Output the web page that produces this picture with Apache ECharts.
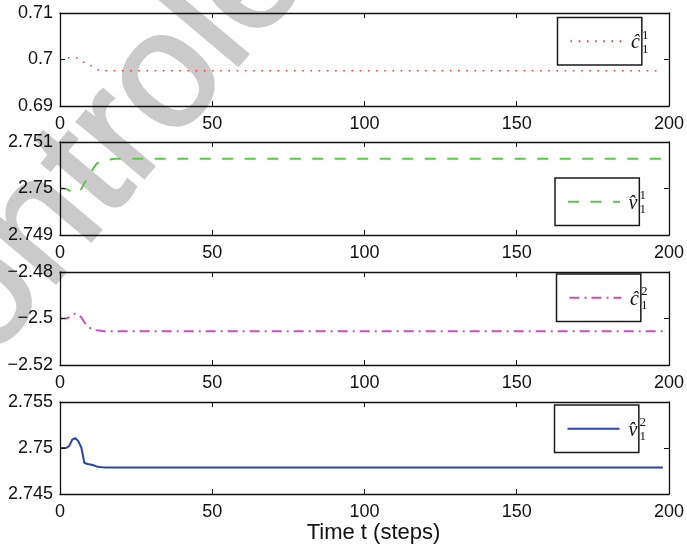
<!DOCTYPE html>
<html>
<head>
<meta charset="utf-8">
<script src="https://cdn.jsdelivr.net/npm/echarts@6/dist/echarts.min.js"></script>
<style>
  html, body { margin: 0; padding: 0; background: #ffffff; }
  #chart { width: 687px; height: 553px; }
</style>
</head>
<body>
<div id="chart"></div>
<script>
// Estimated parameters over time (steps); each series settles after ~15 steps.
const timeTicks = [0, 50, 100, 150, 200];

const tC11 = [0, 1, 2, 3, 4, 5, 6, 7, 8, 9, 10, 11, 12, 13, 14, 198];
const c11 = [0.7000, 0.7000, 0.7002, 0.7004, 0.7004, 0.7004, 0.7003, 0.6998, 0.6993, 0.6990,
             0.6987, 0.6984, 0.6979, 0.6977, 0.6976, 0.6976];

const tV11 = [0, 1, 2, 3, 4, 5, 6, 7, 8, 9, 10, 11, 12, 13, 14, 15, 16, 17, 18, 19, 198];
const v11 = [2.75, 2.75, 2.74999, 2.74996, 2.74991, 2.7499, 2.74993, 2.74999, 2.75011, 2.75022,
             2.75033, 2.75044, 2.75053, 2.75058, 2.7506, 2.75061, 2.75062, 2.75063, 2.75064,
             2.75064, 2.75064];

const tC12 = [0, 1, 2, 3, 4, 5, 6, 7, 8, 9, 10, 11, 12, 13, 14, 15, 16, 198];
const c12 = [-2.5, -2.5, -2.5, -2.4995, -2.4984, -2.4979, -2.4983, -2.4995, -2.5016, -2.5034,
             -2.5042, -2.5047, -2.5050, -2.5052, -2.5054, -2.5055, -2.5055, -2.5055];

const tV12 = [0, 1, 2, 3, 4, 5, 6, 7, 8, 9, 10, 11, 12, 13, 14, 15, 16, 198];
const v12 = [2.75, 2.75, 2.75, 2.7502, 2.7509, 2.75108, 2.75075, 2.75005, 2.7484, 2.74826,
             2.7482, 2.74812, 2.748, 2.74793, 2.7479, 2.74789, 2.74789, 2.74789];

// y ranges of the four panels: [min, max, interval]
const yRanges = [
  [0.69, 0.71, 0.01],
  [2.749, 2.751, 0.001],
  [-2.52, -2.48, 0.02],
  [2.745, 2.755, 0.005]
];

const seriesNames = ['c11', 'v11', 'c12', 'v12'];
const seriesTimes = [tC11, tV11, tC12, tV12];
const seriesValues = [c11, v11, c12, v12];
const legendSymbols = [
  { base: 'ĉ', sup: '1' },
  { base: 'v̂', sup: '1' },
  { base: 'ĉ', sup: '2' },
  { base: 'v̂', sup: '2' }
];
const xLabel = 'Time t (steps)';
const watermarkText = 'Controle';

const lineStyles = [
  { color: '#f23b3b', width: 1.5, type: [1.6, 6.6] },
  { color: '#5bc64a', width: 2, type: [11, 11.5] },
  { color: '#c94fc0', width: 2, type: [10, 5, 2, 5] },
  { color: '#2b45a8', width: 2, type: 'solid' }
];

const gridTops = [13, 142, 272, 402];
const gridLeft = 60, gridWidth = 612, gridHeight = 93;

// legend boxes: left, top, width of text slot, x of symbol
const legendBoxes = [
  { left: 557.5, top: 17.5, slot: 27.5, symX: 631 },
  { left: 555, top: 178, slot: 30.5, symX: 628.5 },
  { left: 556.5, top: 274, slot: 27.5, symX: 630 },
  { left: 554.5, top: 405, slot: 30, symX: 628.5 }
];

const AXIS_FONT = 'Liberation Sans, Arial, Helvetica, sans-serif';
const MATH_FONT = '"Liberation Serif", "Times New Roman", serif';
const black = '#111111';

function fmt(v) {
  return String(+v.toFixed(4)).replace('-', '\u2212');
}

const grids = [], xAxes = [], yAxes = [], series = [], legends = [], graphics = [];

for (let i = 0; i < 4; i++) {
  grids.push({ left: gridLeft, top: gridTops[i], width: gridWidth, height: i === 3 ? 92 : gridHeight, containLabel: false });
  const tickCommon = { show: true, inside: true, length: 5, lineStyle: { color: black, width: 1 } };
  const lineCommon = { show: true, onZero: false, lineStyle: { color: black, width: 1.3 } };
  // bottom x axis with labels
  xAxes.push({
    gridIndex: i, type: 'value', position: 'bottom', z: 5,
    min: timeTicks[0], max: timeTicks[timeTicks.length - 1], interval: timeTicks[1] - timeTicks[0],
    axisLine: lineCommon, axisTick: tickCommon, splitLine: { show: false },
    axisLabel: { show: true, margin: 9.5, color: black, fontSize: 18, fontFamily: AXIS_FONT },
    name: i === 3 ? xLabel : '',
    nameLocation: 'middle', nameGap: 24,
    nameTextStyle: { fontSize: 22, color: black, fontFamily: AXIS_FONT, padding: [0, 0, 0, 18] }
  });
  // top x axis (box edge with mirrored ticks)
  xAxes.push({
    gridIndex: i, type: 'value', position: 'top', z: 5,
    min: timeTicks[0], max: timeTicks[timeTicks.length - 1], interval: timeTicks[1] - timeTicks[0],
    axisLine: lineCommon, axisTick: tickCommon, splitLine: { show: false },
    axisLabel: { show: false }
  });
  const [mn, mx, step] = yRanges[i];
  yAxes.push({
    gridIndex: i, type: 'value', position: 'left', z: 5,
    min: mn, max: mx, interval: step,
    axisLine: lineCommon, axisTick: tickCommon, splitLine: { show: false },
    axisLabel: { show: true, margin: 7, color: black, fontSize: 18, fontFamily: AXIS_FONT, formatter: fmt }
  });
  yAxes.push({
    gridIndex: i, type: 'value', position: 'right', z: 5,
    min: mn, max: mx, interval: step,
    axisLine: lineCommon, axisTick: tickCommon, splitLine: { show: false },
    axisLabel: { show: false }
  });

  const ts = seriesTimes[i], vs = seriesValues[i];
  series.push({
    name: seriesNames[i], type: 'line',
    xAxisIndex: 2 * i, yAxisIndex: 2 * i,
    data: ts.map((t, k) => [t, vs[k]]),
    symbol: 'none', smooth: false,
    lineStyle: lineStyles[i],
    itemStyle: { color: lineStyles[i].color },
    silent: true
  });

  const lb = legendBoxes[i];
  legends.push({
    data: [seriesNames[i]],
    left: lb.left, top: lb.top,
    orient: 'horizontal',
    itemWidth: 52, itemHeight: 14,
    padding: [17.7, 11, 17.7, 12],
    backgroundColor: '#ffffff',
    borderColor: '#1a1a1a', borderWidth: 1.5, borderRadius: 0,
    selectedMode: false,
    itemStyle: { opacity: 0 },
    formatter: () => ' ',
    textStyle: { width: lb.slot, height: 14, overflow: 'none' }
  });

  // math label of the legend entry: hatted symbol with super- and subscript
  const L = lb.top + 17.7 + 7;
  const sym = legendSymbols[i];
  graphics.push({
    type: 'text', z: 100, x: lb.symX, y: L + 1,
    style: { text: sym.base, font: 'italic 20px ' + MATH_FONT, fill: black, textAlign: 'left', textVerticalAlign: 'middle' }
  });
  graphics.push({
    type: 'text', z: 100, x: lb.symX + 11, y: L - 7,
    style: { text: sym.sup, font: '13px ' + MATH_FONT, fill: black, textAlign: 'left', textVerticalAlign: 'middle' }
  });
  graphics.push({
    type: 'text', z: 100, x: lb.symX + 11, y: L + 7,
    style: { text: '1', font: '13px ' + MATH_FONT, fill: black, textAlign: 'left', textVerticalAlign: 'middle' }
  });
}

// faint diagonal watermark lettering behind the plots
graphics.push({
  type: 'text', z: -10, x: -122, y: 424, rotation: 50 * Math.PI / 180,
  style: { text: watermarkText, font: '165px "Liberation Sans", Arial, sans-serif', fill: '#cacaca',
           stroke: '#cacaca', lineWidth: 3,
           textAlign: 'left', textVerticalAlign: 'middle' }
});

const chart = echarts.init(document.getElementById('chart'), null, { renderer: 'canvas' });
chart.setOption({
  animation: false,
  backgroundColor: '#ffffff',
  grid: grids,
  xAxis: xAxes,
  yAxis: yAxes,
  legend: legends,
  series: series,
  graphic: graphics
});
</script>
</body>
</html>
